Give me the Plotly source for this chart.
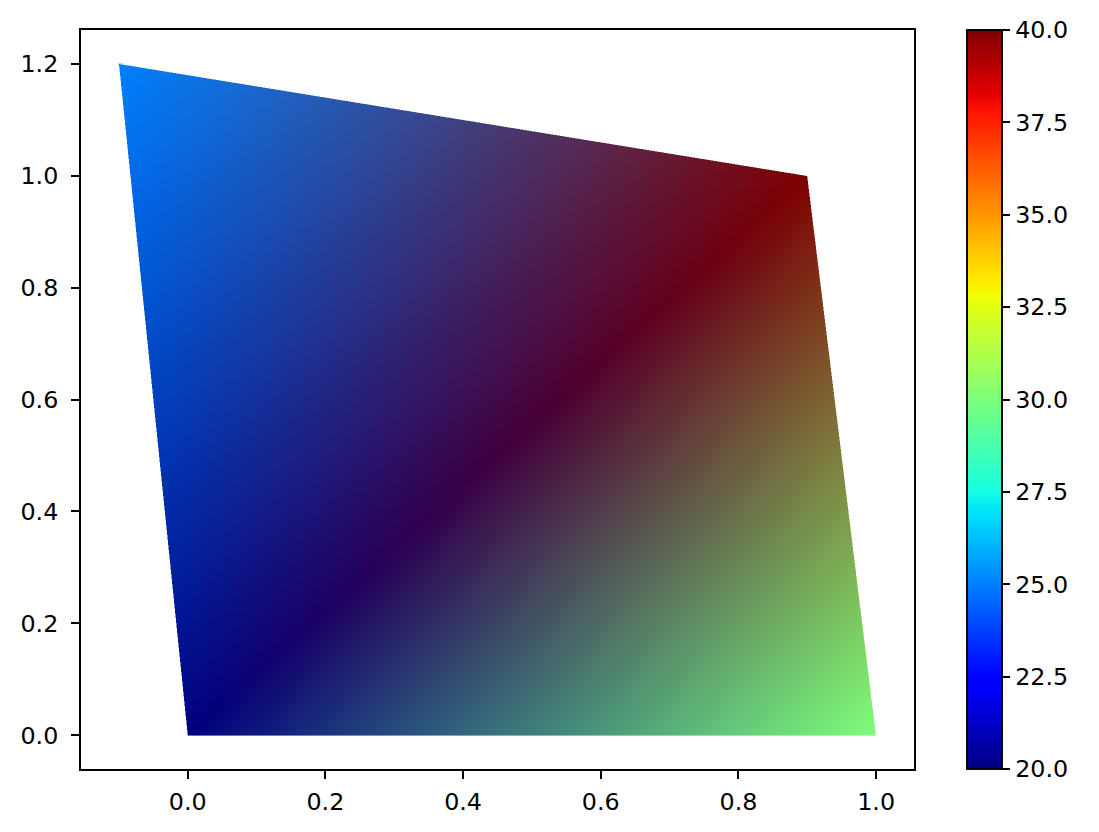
import base64
import struct
import zlib

import numpy as np
import plotly.graph_objects as go

# corners of the quad and the value at each corner
x = [0.0, 1.0, 0.9, -0.1]
y = [0.0, 0.0, 1.0, 1.2]
c = [20.0, 30.0, 40.0, 25.0]
triangles = [[0, 1, 2], [0, 2, 3]]

x_ticks = [0.0, 0.2, 0.4, 0.6, 0.8, 1.0]
y_ticks = [0.0, 0.2, 0.4, 0.6, 0.8, 1.0, 1.2]
cbar_ticks = [20.0, 22.5, 25.0, 27.5, 30.0, 32.5, 35.0, 37.5, 40.0]

# matplotlib "jet" segment data
JET_R = [(0, 0), (0.35, 0), (0.66, 1), (0.89, 1), (1, 0.5)]
JET_G = [(0, 0), (0.125, 0), (0.375, 1), (0.64, 1), (0.91, 0), (1, 0)]
JET_B = [(0, 0.5), (0.11, 1), (0.34, 1), (0.65, 0), (1, 0)]


def jet(t, lut=True):
    t = np.asarray(t, float)
    if lut:
        t = np.clip((t * 256).astype(int), 0, 255) / 255.0
    return np.stack([np.interp(t, [p[0] for p in s], [p[1] for p in s])
                     for s in (JET_R, JET_G, JET_B)], axis=-1)


stops = sorted({p[0] for s in (JET_R, JET_G, JET_B) for p in s})
jet_scale = [[s, 'rgb(%d,%d,%d)' % tuple(np.round(jet(s, lut=False) * 255))]
             for s in stops]

cmin, cmax = min(c), max(c)
vcol = jet((np.array(c) - cmin) / (cmax - cmin))

# gouraud shading: colours blended linearly across each triangle
xmin, xmax, ymin, ymax = min(x), max(x), min(y), max(y)
W, H, ss = 757, 672, 2
gx = xmin + (np.arange(W * ss) + 0.5) * (xmax - xmin) / (W * ss)
gy = ymin + (np.arange(H * ss) + 0.5) * (ymax - ymin) / (H * ss)
X, Y = np.meshgrid(gx, gy)
rgb = np.zeros(X.shape + (3,))
mask = np.zeros(X.shape)
for i, j, k in triangles:
    x1, y1, x2, y2, x3, y3 = x[i], y[i], x[j], y[j], x[k], y[k]
    det = (y2 - y3) * (x1 - x3) + (x3 - x2) * (y1 - y3)
    l1 = ((y2 - y3) * (X - x3) + (x3 - x2) * (Y - y3)) / det
    l2 = ((y3 - y1) * (X - x3) + (x1 - x3) * (Y - y3)) / det
    l3 = 1 - l1 - l2
    inside = (l1 >= -1e-9) & (l2 >= -1e-9) & (l3 >= -1e-9) & (mask == 0)
    col = l1[..., None] * vcol[i] + l2[..., None] * vcol[j] + l3[..., None] * vcol[k]
    rgb[inside] = col[inside]
    mask[inside] = 1

pre = (rgb * mask[..., None]).reshape(H, ss, W, ss, 3).mean(axis=(1, 3))
alpha = mask.reshape(H, ss, W, ss).mean(axis=(1, 3))
col = np.where(alpha[..., None] > 0, pre / np.maximum(alpha[..., None], 1e-9), 0)
rgba = np.dstack([col, alpha])
rgba = np.round(rgba * 255).astype(np.uint8)


def png_uri(img):
    h, w, _ = img.shape
    raw = b''.join(b'\x00' + img[r].tobytes() for r in range(h))

    def chunk(t, d):
        return struct.pack('>I', len(d)) + t + d + struct.pack('>I', zlib.crc32(t + d) & 0xffffffff)

    png = (b'\x89PNG\r\n\x1a\n'
           + chunk(b'IHDR', struct.pack('>IIBBBBB', w, h, 8, 6, 0, 0, 0))
           + chunk(b'IDAT', zlib.compress(raw, 9))
           + chunk(b'IEND', b''))
    return 'data:image/png;base64,' + base64.b64encode(png).decode()


dx = (xmax - xmin) / W
dy = (ymax - ymin) / H

xr = [-0.155, 1.055]
yr = [-0.06, 1.26]
pw, ph = 833, 739
ratio = (pw / (xr[1] - xr[0])) / (ph / (yr[1] - yr[0]))

fig = go.Figure()
fig.add_trace(go.Image(source=png_uri(rgba), x0=xmin + dx / 2, dx=dx,
                       y0=ymin + dy / 2, dy=dy, hoverinfo='skip'))
fig.add_trace(go.Scatter(
    x=x, y=y, mode='markers', hoverinfo='skip', showlegend=False,
    marker=dict(size=0.1, opacity=0, color=c, colorscale=jet_scale,
                cmin=cmin, cmax=cmax, showscale=True,
                colorbar=dict(x=(966 - 80) / pw, xanchor='left', xpad=0,
                              y=0.5, yanchor='middle', len=1, ypad=0,
                              thickness=35, outlinewidth=1.9, outlinecolor='black',
                              ticks='outside', ticklen=8, tickwidth=1.9,
                              tickcolor='black', tickvals=cbar_ticks,
                              tickformat='.1f', tickprefix='\u00a0'))))

axis = dict(showline=True, mirror=True, linecolor='black', linewidth=1.9,
            ticks='outside', ticklen=8, tickwidth=1.9, tickcolor='black',
            showgrid=False, zeroline=False, tickformat='.1f', autorange=False)
fig.update_xaxes(range=xr, tickvals=x_ticks, scaleanchor='y', scaleratio=ratio,
                 constrain='range', ticklabelstandoff=2, **axis)
fig.update_yaxes(range=yr, tickvals=y_ticks, constrain='range',
                 ticklabelstandoff=8, **axis)
fig.update_layout(
    width=1099, height=832, template='none',
    margin=dict(l=73, r=1099 - 73 - pw, t=22, b=832 - 22 - ph),
    paper_bgcolor='white', plot_bgcolor='white',
    font=dict(family='DejaVu Sans', size=23.8, color='black'),
)
fig.write_html('out.html')
